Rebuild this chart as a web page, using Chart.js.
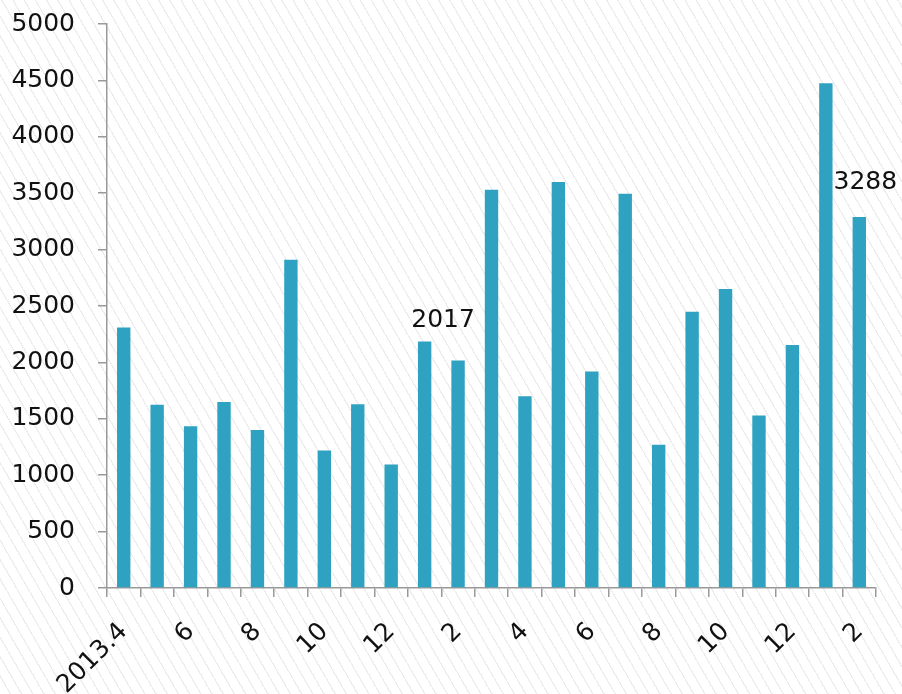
<!DOCTYPE html>
<html>
<head>
<meta charset="utf-8">
<script src="https://cdn.jsdelivr.net/npm/chart.js@4/dist/chart.umd.min.js"></script>
<style>
  html, body { margin: 0; padding: 0; }
  body {
    width: 902px; height: 694px; overflow: hidden;
    background-color: #ffffff;
    background-image: repeating-linear-gradient(60deg, #ffffff 0px, #ffffff 8.4px, #ededed 8.4px, #ededed 9.7px);
  }
  #wrap { position: relative; width: 902px; height: 694px; }
</style>
</head>
<body>
<div id="wrap"><canvas id="c" width="902" height="694"></canvas></div>
<script>
const categories = ['2013.4','5','6','7','8','9','10','11','12','2014.1','2','3','4','5','6','7','8','9','10','11','12','2015.1','2'];
const tickLabels = ['2013.4','','6','','8','','10','','12','','2','','4','','6','','8','','10','','12','','2'];
const values = [2310,1625,1435,1650,1400,2910,1220,1630,1095,2185,2017,3530,1700,3600,1920,3495,1270,2450,2650,1530,2155,4475,3288];
const annotated = [10, 22];
const yTicks = { min: 0, max: 5000, step: 500 };

const FONT = 'DejaVu Sans';
const labelPlugin = {
  id: 'valueLabels',
  afterDatasetsDraw(chart) {
    const ctx = chart.ctx;
    const meta = chart.getDatasetMeta(0);
    const ys = chart.scales.y;
    ctx.save();
    ctx.font = '25px "' + FONT + '"';
    ctx.fillStyle = '#111';
    ctx.textAlign = 'center';
    ctx.textBaseline = 'middle';
    const offsets = { 10: [-15, -40], 22: [6, -35] };
    annotated.forEach(i => {
      const bar = meta.data[i];
      const o = offsets[i];
      ctx.fillText(String(values[i]), bar.x + o[0], ys.getPixelForValue(values[i]) + o[1]);
    });
    ctx.restore();
  }
};

new Chart(document.getElementById('c'), {
  type: 'bar',
  data: {
    labels: categories,
    datasets: [{
      data: values,
      backgroundColor: '#2ea2c0',
      barPercentage: 0.4,
      categoryPercentage: 1.0
    }]
  },
  options: {
    responsive: false,
    animation: false,
    devicePixelRatio: 1,
    layout: { padding: { top: 24, right: 26, left: 0, bottom: 0 } },
    plugins: { legend: { display: false }, tooltip: { enabled: false } },
    scales: {
      x: {
        offset: true,
        grid: { offset: true, drawOnChartArea: false, drawTicks: true, tickLength: 9, color: '#999', lineWidth: 1.5 },
        border: { display: true, color: '#999', width: 1.5 },
        ticks: {
          autoSkip: false,
          minRotation: 45, maxRotation: 45,
          padding: 20,
          color: '#111',
          font: { family: FONT, size: 25 },
          callback: (v, i) => tickLabels[i]
        },
        afterFit(s) { s.height = 106; s.paddingLeft = 0; s.paddingRight = 0; }
      },
      y: {
        min: yTicks.min, max: yTicks.max,
        grid: { drawOnChartArea: false, drawTicks: true, tickLength: 9, color: '#999', lineWidth: 1.5 },
        border: { display: true, color: '#999', width: 1.5 },
        ticks: {
          stepSize: yTicks.step,
          padding: 23,
          color: '#111',
          font: { family: FONT, size: 25 },
          callback: v => String(v)
        },
        afterFit(s) { s.width = 107; s.paddingTop = 0; s.paddingBottom = 0; }
      }
    }
  },
  plugins: [labelPlugin]
});
</script>
</body>
</html>
